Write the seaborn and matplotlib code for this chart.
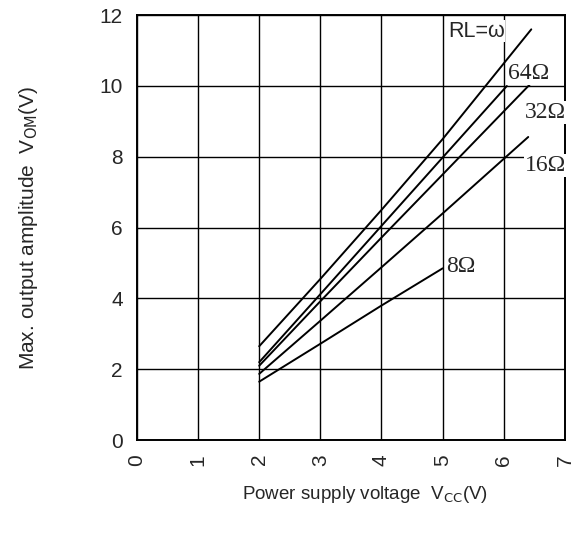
import matplotlib
matplotlib.use("Agg")
import matplotlib.pyplot as plt
import seaborn as sns
import pandas as pd

# curves: Vcc (V) -> Vom (V)
vcc_inf = [2.0, 3.0, 4.0, 5.0, 6.45]
vom_inf = [2.65, 4.55, 6.5, 8.5, 11.6]
vcc_64 = [2.0, 3.0, 4.0, 5.0, 6.05]
vom_64 = [2.2, 4.12, 6.05, 7.98, 10.0]
vcc_32 = [2.0, 3.0, 4.0, 5.0, 6.43]
vom_32 = [2.1, 3.92, 5.72, 7.5, 10.05]
vcc_16 = [2.0, 3.0, 4.0, 5.0, 6.4]
vom_16 = [1.87, 3.37, 4.88, 6.4, 8.56]
vcc_8 = [2.0, 3.0, 4.0, 5.0]
vom_8 = [1.65, 2.72, 3.8, 4.85]

loads = ["inf", "64", "32", "16", "8"]
labels = ["RL=ω", "64Ω", "32Ω", "16Ω", "8Ω"]
label_pos = [(5.55, 11.55), (6.4, 10.35), (6.68, 9.25), (6.68, 7.75), (5.3, 4.9)]

x_ticks = [0, 1, 2, 3, 4, 5, 6, 7]
y_ticks = [0, 2, 4, 6, 8, 10, 12]

frames = []
for name, xs, ys in zip(loads,
                        [vcc_inf, vcc_64, vcc_32, vcc_16, vcc_8],
                        [vom_inf, vom_64, vom_32, vom_16, vom_8]):
    frames.append(pd.DataFrame({"vcc": xs, "vom": ys, "load": name}))
df = pd.concat(frames, ignore_index=True)

sns.set_style("white")
plt.rcParams["font.family"] = ["Liberation Sans", "DejaVu Sans"]

fig = plt.figure(figsize=(5.8, 5.42), dpi=100)
ax = fig.add_axes([0.236, 0.188, 0.738, 0.784])

sns.lineplot(data=df, x="vcc", y="vom", units="load", estimator=None,
             color="black", linewidth=1.4, sort=False, ax=ax, legend=False)

ax.set_xlim(0, 7)
ax.set_ylim(0, 12)
ax.set_xticks(x_ticks)
ax.set_yticks(y_ticks)
ax.set_xticklabels([str(t) for t in x_ticks], rotation=90, fontsize=15)
ax.set_yticklabels([str(t) for t in y_ticks], fontsize=15)
ax.tick_params(axis="both", length=0, pad=10)
ax.grid(True, color="black", linewidth=1.0)
for s in ax.spines.values():
    s.set_color("black")
    s.set_linewidth(1.4)
ax.set_xlabel("")
ax.set_ylabel("")

for lab, (tx, ty) in zip(labels, label_pos):
    if lab.startswith("RL"):
        fam, fs = ["Liberation Sans", "DejaVu Sans"], 15.5
    else:
        fam, fs = ["Liberation Serif", "DejaVu Serif"], 17
    ax.text(tx, ty, lab, fontsize=fs, family=fam, ha="center", va="center",
            bbox=dict(facecolor="white", edgecolor="none", pad=0.5))

fig.text(0.63, 0.087, "Power supply voltage  V$_{\\rm CC}$(V)", ha="center", va="center", fontsize=13.5)
fig.text(0.05, 0.579, "Max. output amplitude  V$_{\\rm OM}$(V)", ha="center", va="center",
         rotation=90, fontsize=15)

fig.savefig("out.png", dpi=100)
